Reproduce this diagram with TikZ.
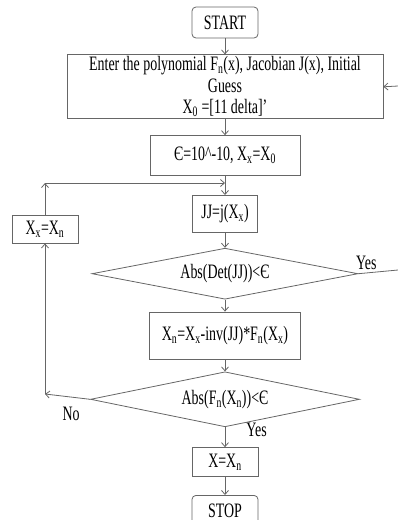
\documentclass[tikz,border=0pt]{standalone}
\usepackage{fontspec}
\setmainfont{Liberation Serif}[FakeStretch=0.68]
\usetikzlibrary{positioning,shapes.geometric,arrows.meta}
\newcommand\lo[1]{\textsubscript{#1}}

\begin{document}
\begin{tikzpicture}[x=1pt,y=1pt,
    font=\fontsize{20.5}{20.5}\selectfont,
    line/.style={draw=black!60,line width=0.8pt},
    arr/.style={line,-{Straight Barb[length=4pt,width=7pt]}},
    box/.style={line,rectangle,inner sep=0pt,align=center},
    term/.style={box,rounded corners=4pt},
    cond/.style={line,diamond,inner sep=0pt,aspect=5.2},
    lbl/.style={inner sep=1pt}]
    \useasboundingbox (0,0) rectangle (398,-520);
    \node[term,minimum width=66pt,minimum height=31pt] (start) at (225,-22.5) {START};
    \node[box,below=16pt of start,minimum width=316pt,minimum height=64pt,
        font=\fontsize{20.5}{21.5}\selectfont] (input)
        {Enter the polynomial F\lo{n}(x), Jacobian J(x), Initial\\Guess\\X\lo{0} =[11 delta]'};
    \node[box,below=16pt of input,minimum width=150pt,minimum height=40pt] (init) {Є=10\^{}-10, X\lo{x}=X\lo{0}};
    \node[box,below=19pt of init,minimum width=65pt,minimum height=37pt] (jac) {JJ=j(X\lo{x})};
    \node[cond,below=15pt of jac,minimum width=266pt,minimum height=51pt] (chkdet) {Abs(Det(JJ))<Є};
    \node[box,below=12pt of chkdet,minimum width=151pt,minimum height=47pt] (upd) {X\lo{n}=X\lo{x}-inv(JJ)*F\lo{n}(X\lo{x})};
    \node[cond,below=12pt of upd,minimum width=269pt,minimum height=55pt] (chkf) {Abs(F\lo{n}(X\lo{n}))<Є};
    \node[box,below=20pt of chkf,minimum width=66pt,minimum height=29pt] (res) {X=X\lo{n}};
    \node[term,below=18pt of res,minimum width=66pt,minimum height=31pt] (stop) {STOP};
    \node[box,minimum width=66pt,minimum height=28pt] (swap) at (45,-229) {X\lo{x}=X\lo{n}};
    \coordinate (join) at (225,-183);
    \coordinate (corner) at (45,-183);
    \coordinate (back) at (45,-394);
    \coordinate (outin) at (398,-86);
    \coordinate (outdet) at (398,-270);
    \draw[arr] (start) -- (input);
    \draw[arr] (outin) -- (input.east);
    \draw[arr] (input) -- (init);
    \draw[arr] (init) -- (jac);
    \draw[arr] (swap) -- (corner);
    \draw[arr] (corner) -- (join);
    \draw[arr] (jac) -- (chkdet);
    \draw[line] (chkdet.east) -- (outdet) node[lbl,pos=0.2,above=2pt]{Yes};
    \draw[arr] (chkdet) -- (upd);
    \draw[arr] (upd) -- (chkf);
    \draw[arr] (chkf.west) -- (back) node[lbl,pos=0.42,below=9pt]{No};
    \draw[arr] (back) -- (swap);
    \draw[arr] (chkf) -- (res) node[lbl,pos=0.15,right=20pt]{Yes};
    \draw[arr] (res) -- (stop);
\end{tikzpicture}
\end{document}
